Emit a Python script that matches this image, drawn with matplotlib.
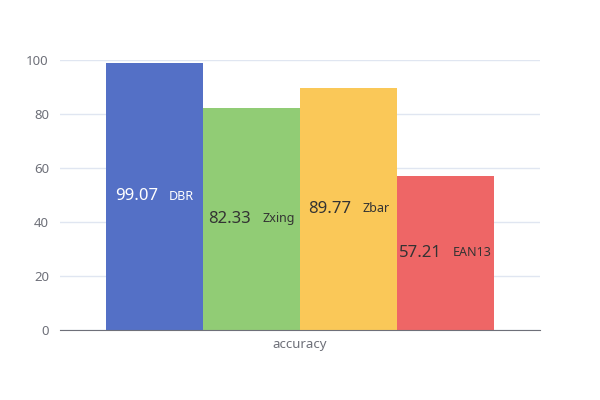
import matplotlib.pyplot as plt
from matplotlib.offsetbox import TextArea, HPacker, AnnotationBbox

plt.rcParams['font.family'] = ['Noto Sans', 'DejaVu Sans']

category = 'accuracy'
names = ['DBR', 'Zxing', 'Zbar', 'EAN13']
values = [99.07, 82.33, 89.77, 57.21]
colors = ['#5470c6', '#91cc75', '#fac858', '#ee6666']
text_colors = ['#ffffff', '#333333', '#333333', '#333333']

fig = plt.figure(figsize=(6, 4), dpi=100)
ax = fig.add_axes([0.1, 0.175, 0.8, 0.675])

bar_w = 0.202
start = -2 * bar_w
for i, (name, v) in enumerate(zip(names, values)):
    x = start + bar_w * (i + 0.5)
    ax.bar(x, v, width=bar_w, color=colors[i], zorder=2)
    val = TextArea(f'{v:.2f}', textprops=dict(fontsize=12, color=text_colors[i]))
    lab = TextArea(name, textprops=dict(fontsize=9, color=text_colors[i]))
    box = HPacker(children=[val, lab], align='center', pad=0, sep=8)
    ab = AnnotationBbox(box, (x, v / 2), frameon=False, box_alignment=(0.5, 0.5), zorder=3)
    ax.add_artist(ab)

ax.set_xlim(-0.5, 0.5)
ax.set_ylim(0, 100)
ax.set_yticks([0, 20, 40, 60, 80, 100])
ax.set_xticks([0])
ax.set_xticklabels([category])
ax.tick_params(axis='both', length=0, labelsize=9.5, labelcolor='#6E7079')
ax.tick_params(axis='y', pad=8)
ax.tick_params(axis='x', pad=6)
ax.grid(axis='y', color='#E0E6F1', linewidth=1, zorder=0)
for s in ['top', 'right', 'left']:
    ax.spines[s].set_visible(False)
ax.spines['bottom'].set_color('#6E7079')
ax.spines['bottom'].set_zorder(4)

fig.savefig('out.png', dpi=100)
